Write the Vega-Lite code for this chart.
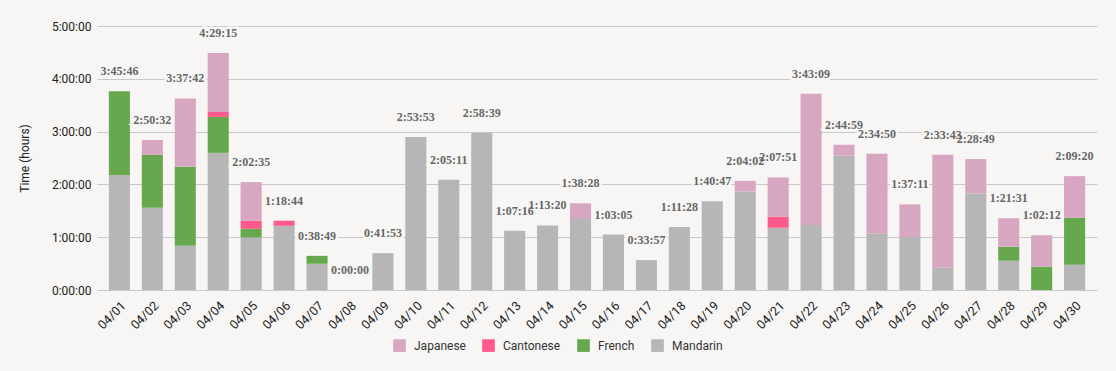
{
  "$schema": "https://vega.github.io/schema/vega-lite/v6.json",
  "width": 1000,
  "height": 264,
  "autosize": {"type": "none"},
  "padding": {"left": 97, "top": 26, "right": 19, "bottom": 81},
  "background": "#f7f6f4",
  "config": {
    "view": {"stroke": null},
    "axis": {"labelFont": "Roboto", "titleFont": "Roboto", "labelFontSize": 12, "titleFontSize": 12, "labelColor": "#222222", "titleColor": "#222222", "titleFontWeight": "normal"},
    "legend": {"labelFont": "Roboto", "labelFontSize": 12, "labelColor": "#333333"}
  },
  "datasets": {
    "segments": [
      {"date": "04/01", "lang": "Mandarin", "hours": 2.18},
      {"date": "04/01", "lang": "French", "hours": 1.583},
      {"date": "04/02", "lang": "Mandarin", "hours": 1.557},
      {"date": "04/02", "lang": "French", "hours": 1.003},
      {"date": "04/02", "lang": "Japanese", "hours": 0.282},
      {"date": "04/03", "lang": "Mandarin", "hours": 0.838},
      {"date": "04/03", "lang": "French", "hours": 1.495},
      {"date": "04/03", "lang": "Japanese", "hours": 1.295},
      {"date": "04/04", "lang": "Mandarin", "hours": 2.597},
      {"date": "04/04", "lang": "French", "hours": 0.681},
      {"date": "04/04", "lang": "Cantonese", "hours": 0.095},
      {"date": "04/04", "lang": "Japanese", "hours": 1.115},
      {"date": "04/05", "lang": "Mandarin", "hours": 0.995},
      {"date": "04/05", "lang": "French", "hours": 0.165},
      {"date": "04/05", "lang": "Cantonese", "hours": 0.151},
      {"date": "04/05", "lang": "Japanese", "hours": 0.732},
      {"date": "04/06", "lang": "Mandarin", "hours": 1.216},
      {"date": "04/06", "lang": "Cantonese", "hours": 0.096},
      {"date": "04/07", "lang": "Mandarin", "hours": 0.497},
      {"date": "04/07", "lang": "French", "hours": 0.15},
      {"date": "04/08", "lang": "Mandarin", "hours": 0},
      {"date": "04/09", "lang": "Mandarin", "hours": 0.698},
      {"date": "04/10", "lang": "Mandarin", "hours": 2.898},
      {"date": "04/11", "lang": "Mandarin", "hours": 2.086},
      {"date": "04/12", "lang": "Mandarin", "hours": 2.978},
      {"date": "04/13", "lang": "Mandarin", "hours": 1.121},
      {"date": "04/14", "lang": "Mandarin", "hours": 1.222},
      {"date": "04/15", "lang": "Mandarin", "hours": 1.343},
      {"date": "04/15", "lang": "Japanese", "hours": 0.298},
      {"date": "04/16", "lang": "Mandarin", "hours": 1.051},
      {"date": "04/17", "lang": "Mandarin", "hours": 0.566},
      {"date": "04/18", "lang": "Mandarin", "hours": 1.191},
      {"date": "04/19", "lang": "Mandarin", "hours": 1.68},
      {"date": "04/20", "lang": "Mandarin", "hours": 1.866},
      {"date": "04/20", "lang": "Japanese", "hours": 0.201},
      {"date": "04/21", "lang": "Mandarin", "hours": 1.179},
      {"date": "04/21", "lang": "Cantonese", "hours": 0.208},
      {"date": "04/21", "lang": "Japanese", "hours": 0.744},
      {"date": "04/22", "lang": "Mandarin", "hours": 1.23},
      {"date": "04/22", "lang": "Japanese", "hours": 2.489},
      {"date": "04/23", "lang": "Mandarin", "hours": 2.544},
      {"date": "04/23", "lang": "Japanese", "hours": 0.206},
      {"date": "04/24", "lang": "Mandarin", "hours": 1.065},
      {"date": "04/24", "lang": "Japanese", "hours": 1.516},
      {"date": "04/25", "lang": "Mandarin", "hours": 1.003},
      {"date": "04/25", "lang": "Japanese", "hours": 0.617},
      {"date": "04/26", "lang": "Mandarin", "hours": 0.428},
      {"date": "04/26", "lang": "Japanese", "hours": 2.134},
      {"date": "04/27", "lang": "Mandarin", "hours": 1.828},
      {"date": "04/27", "lang": "Japanese", "hours": 0.652},
      {"date": "04/28", "lang": "Mandarin", "hours": 0.554},
      {"date": "04/28", "lang": "French", "hours": 0.265},
      {"date": "04/28", "lang": "Japanese", "hours": 0.54},
      {"date": "04/29", "lang": "French", "hours": 0.441},
      {"date": "04/29", "lang": "Japanese", "hours": 0.596},
      {"date": "04/30", "lang": "Mandarin", "hours": 0.479},
      {"date": "04/30", "lang": "French", "hours": 0.889},
      {"date": "04/30", "lang": "Japanese", "hours": 0.788}
    ],
    "totals": [
      {"date": "04/01", "total": 3.763, "label": "3:45:46"},
      {"date": "04/02", "total": 2.842, "label": "2:50:32"},
      {"date": "04/03", "total": 3.628, "label": "3:37:42"},
      {"date": "04/04", "total": 4.488, "label": "4:29:15"},
      {"date": "04/05", "total": 2.043, "label": "2:02:35"},
      {"date": "04/06", "total": 1.312, "label": "1:18:44"},
      {"date": "04/07", "total": 0.647, "label": "0:38:49"},
      {"date": "04/08", "total": 0, "label": "0:00:00"},
      {"date": "04/09", "total": 0.698, "label": "0:41:53"},
      {"date": "04/10", "total": 2.898, "label": "2:53:53"},
      {"date": "04/11", "total": 2.086, "label": "2:05:11"},
      {"date": "04/12", "total": 2.978, "label": "2:58:39"},
      {"date": "04/13", "total": 1.121, "label": "1:07:16"},
      {"date": "04/14", "total": 1.222, "label": "1:13:20"},
      {"date": "04/15", "total": 1.641, "label": "1:38:28"},
      {"date": "04/16", "total": 1.051, "label": "1:03:05"},
      {"date": "04/17", "total": 0.566, "label": "0:33:57"},
      {"date": "04/18", "total": 1.191, "label": "1:11:28"},
      {"date": "04/19", "total": 1.68, "label": "1:40:47"},
      {"date": "04/20", "total": 2.067, "label": "2:04:02"},
      {"date": "04/21", "total": 2.131, "label": "2:07:51"},
      {"date": "04/22", "total": 3.719, "label": "3:43:09"},
      {"date": "04/23", "total": 2.75, "label": "2:44:59"},
      {"date": "04/24", "total": 2.581, "label": "2:34:50"},
      {"date": "04/25", "total": 1.62, "label": "1:37:11"},
      {"date": "04/26", "total": 2.562, "label": "2:33:43"},
      {"date": "04/27", "total": 2.48, "label": "2:28:49"},
      {"date": "04/28", "total": 1.359, "label": "1:21:31"},
      {"date": "04/29", "total": 1.037, "label": "1:02:12"},
      {"date": "04/30", "total": 2.156, "label": "2:09:20"}
    ]
  },
  "layer": [
    {
      "data": {"name": "segments"},
      "transform": [{"calculate": "indexof(['Mandarin','French','Cantonese','Japanese'], datum.lang)", "as": "stackOrder"}],
      "mark": {"type": "bar"},
      "encoding": {
        "x": {
          "field": "date", "type": "nominal", "title": null,
          "scale": {"paddingInner": 0.36, "paddingOuter": 0.36},
          "axis": {"labelAngle": -45, "domain": false, "ticks": false, "labelPadding": 9, "grid": false, "labelFontSize": 12.5}
        },
        "y": {
          "field": "hours", "type": "quantitative", "stack": "zero",
          "title": "Time (hours)",
          "scale": {"domain": [0, 5], "nice": false},
          "axis": {"values": [0, 1, 2, 3, 4, 5], "labelExpr": "floor(datum.value) + ':00:00'", "domain": false, "ticks": false, "labelPadding": 6, "gridColor": "#c8c8c8", "gridWidth": 1.2, "titlePadding": 20}
        },
        "color": {
          "field": "lang", "type": "nominal",
          "scale": {"domain": ["Japanese", "Cantonese", "French", "Mandarin"], "range": ["#d7a6c0", "#ff5a8a", "#67a84f", "#b6b6b6"]},
          "legend": {"title": null, "orient": "none", "direction": "horizontal", "legendX": 296, "legendY": 313, "symbolType": "square", "symbolSize": 160, "symbolStrokeWidth": 0, "symbolOpacity": 1, "labelOffset": 8, "columnPadding": 16}
        },
        "order": {"field": "stackOrder", "type": "quantitative"}
      }
    },
    {
      "data": {"name": "totals"},
      "mark": {"type": "text", "dy": -20, "font": "Liberation Serif", "fontWeight": "bold", "fontSize": 12, "stroke": "#f7f6f4", "strokeWidth": 5, "fill": "#f7f6f4"},
      "encoding": {
        "x": {"field": "date", "type": "nominal"},
        "y": {"field": "total", "type": "quantitative"},
        "text": {"field": "label"}
      }
    },
    {
      "data": {"name": "totals"},
      "mark": {"type": "text", "dy": -20, "font": "Liberation Serif", "fontWeight": "bold", "fontSize": 12, "fill": "#666666"},
      "encoding": {
        "x": {"field": "date", "type": "nominal"},
        "y": {"field": "total", "type": "quantitative"},
        "text": {"field": "label"}
      }
    }
  ]
}
